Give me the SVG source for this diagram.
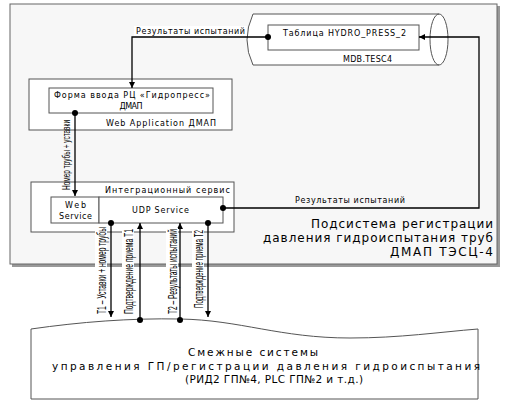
<svg xmlns="http://www.w3.org/2000/svg" width="509" height="402" viewBox="0 0 509 402">
<defs>
<marker id="arr" viewBox="0 0 10 10" refX="10" refY="5" markerWidth="6" markerHeight="6" orient="auto-start-reverse" markerUnits="userSpaceOnUse"><path d="M0,0 L10,5 L0,10 z" fill="#000"/></marker>
<marker id="dot" viewBox="0 0 10 10" refX="5" refY="5" markerWidth="6" markerHeight="6" markerUnits="userSpaceOnUse"><circle cx="5" cy="5" r="5" fill="#000"/></marker>
</defs>
<style>
.box{fill:#fff;stroke:#555;stroke-width:1}
.t{font-family:"DejaVu Sans",sans-serif;font-size:8px;fill:#000}
.n{font-family:"Liberation Sans Narrow","Liberation Sans",sans-serif;font-size:12px;fill:#000}
.n2{font-family:"Liberation Sans Narrow","Liberation Sans",sans-serif;font-size:10.5px;fill:#000}
.big{font-family:"DejaVu Sans",sans-serif;font-size:12px;fill:#000}
.mid{font-family:"DejaVu Sans",sans-serif;font-size:10.5px;fill:#000}
.c{fill:none;stroke:#000;stroke-width:1.3}
.lbl{fill:#fff}
</style>
<rect width="509" height="402" fill="#fff"/>
<g id="subsystem">
<rect x="12" y="6" width="488" height="261" fill="#999"/>
<rect x="10" y="4" width="487" height="260" fill="#f7f7f7" stroke="#666" stroke-width="1"/>
<text class="big" x="493" y="228" text-anchor="end" textLength="182">Подсистема регистрации</text>
<text class="big" x="493" y="242" text-anchor="end" textLength="230">давления гидроиспытания труб</text>
<text class="big" x="493" y="256" text-anchor="end" textLength="103">ДМАП ТЭСЦ-4</text>
</g>
<g id="mdb">
<path d="M253,14 L439,14 A9,25.5 0 0 1 439,65 L253,65 Q241,40 253,14 Z" fill="#fff" stroke="#555"/>
<path d="M439,14 A9,25.5 0 0 0 439,65" fill="none" stroke="#555"/>
<rect class="box" x="268" y="25" width="151" height="25"/>
<text class="t" x="344.5" y="36" text-anchor="middle" textLength="123">Таблица HYDRO_PRESS_2</text>
<text class="t" x="367.5" y="62" text-anchor="middle" textLength="49">MDB.TESC4</text>
</g>
<g id="webapp">
<rect class="box" x="29" y="79" width="203" height="51"/>
<rect class="box" x="49" y="88" width="164" height="25"/>
<text class="t" x="132" y="98" text-anchor="middle" textLength="156">Форма ввода РЦ «Гидропресс»</text>
<text class="t" x="131" y="109" text-anchor="middle" textLength="23">ДМАП</text>
<text class="t" x="161" y="126" text-anchor="middle" textLength="110">Web Application ДМАП</text>
</g>
<g id="integration">
<rect class="box" x="31" y="182" width="203" height="50"/>
<text class="t" x="167.5" y="193" text-anchor="middle" textLength="125">Интеграционный сервис</text>
<rect class="box" x="51" y="197" width="48" height="26"/>
<rect class="box" x="99" y="197" width="124" height="26"/>
<text class="t" x="75.5" y="207.5" text-anchor="middle" textLength="21">Web</text>
<text class="t" x="75.5" y="218.5" text-anchor="middle" textLength="33">Service</text>
<text class="t" x="160.5" y="213" text-anchor="middle" textLength="57">UDP Service</text>
</g>
<g id="adjacent">
<path d="M31,329 C80,322 130,318 180,319 C240,320 280,338 350,338 C400,338 440,332 478,329 L478,399 L31,399 Z" fill="#fff" stroke="#555"/>
<text class="mid" x="253" y="356" text-anchor="middle" textLength="130">Смежные системы</text>
<text class="mid" x="266" y="370" text-anchor="middle" textLength="428">управления ГП/регистрации давления гидроиспытания</text>
<text class="mid" x="274" y="383" text-anchor="middle" textLength="178">(РИД2 ГП№4, PLC ГП№2 и т.д.)</text>
</g>
<g id="connectors">
<polyline class="c" points="268,37 132,37 132,88" marker-start="url(#dot)" marker-end="url(#arr)"/>
<rect class="lbl" x="134" y="26" width="113" height="10"/>
<text class="t" x="190.5" y="34" text-anchor="middle" textLength="109">Результаты испытаний</text>
<line class="c" x1="75" y1="113" x2="75" y2="196" marker-start="url(#dot)" marker-end="url(#arr)"/>
<text class="n2" transform="translate(70,155) rotate(-90)" text-anchor="middle" textLength="70" lengthAdjust="spacingAndGlyphs">Номер трубы + уставки</text>
<polyline class="c" points="223,208 479,208 479,37 419,37" marker-start="url(#dot)" marker-end="url(#arr)"/>
<text class="t" x="350" y="203" text-anchor="middle" textLength="110">Результаты испытаний</text>
<line class="c" x1="111" y1="223" x2="111" y2="317" marker-start="url(#dot)" marker-end="url(#arr)"/>
<line class="c" x1="140" y1="320" x2="140" y2="223" marker-start="url(#dot)" marker-end="url(#arr)"/>
<line class="c" x1="180" y1="320" x2="180" y2="223" marker-start="url(#dot)" marker-end="url(#arr)"/>
<line class="c" x1="208" y1="223" x2="208" y2="317" marker-start="url(#dot)" marker-end="url(#arr)"/>
<rect class="lbl" x="95" y="226" width="12" height="89"/>
<text class="n" transform="translate(105.5,270.5) rotate(-90)" text-anchor="middle" textLength="87" lengthAdjust="spacingAndGlyphs">Т1 – Уставки + номер трубы</text>
<rect class="lbl" x="122" y="228" width="12" height="87"/>
<text class="n" transform="translate(133,271.5) rotate(-90)" text-anchor="middle" textLength="85" lengthAdjust="spacingAndGlyphs">Подтверждение приема Т1</text>
<rect class="lbl" x="166" y="228" width="12" height="87"/>
<text class="n" transform="translate(176.5,271.5) rotate(-90)" text-anchor="middle" textLength="85" lengthAdjust="spacingAndGlyphs">Т2 – Результаты испытаний</text>
<rect class="lbl" x="192" y="229" width="12" height="80"/>
<text class="n" transform="translate(203,269) rotate(-90)" text-anchor="middle" textLength="78" lengthAdjust="spacingAndGlyphs">Подтверждение приема Т2</text>
</g>
</svg>
